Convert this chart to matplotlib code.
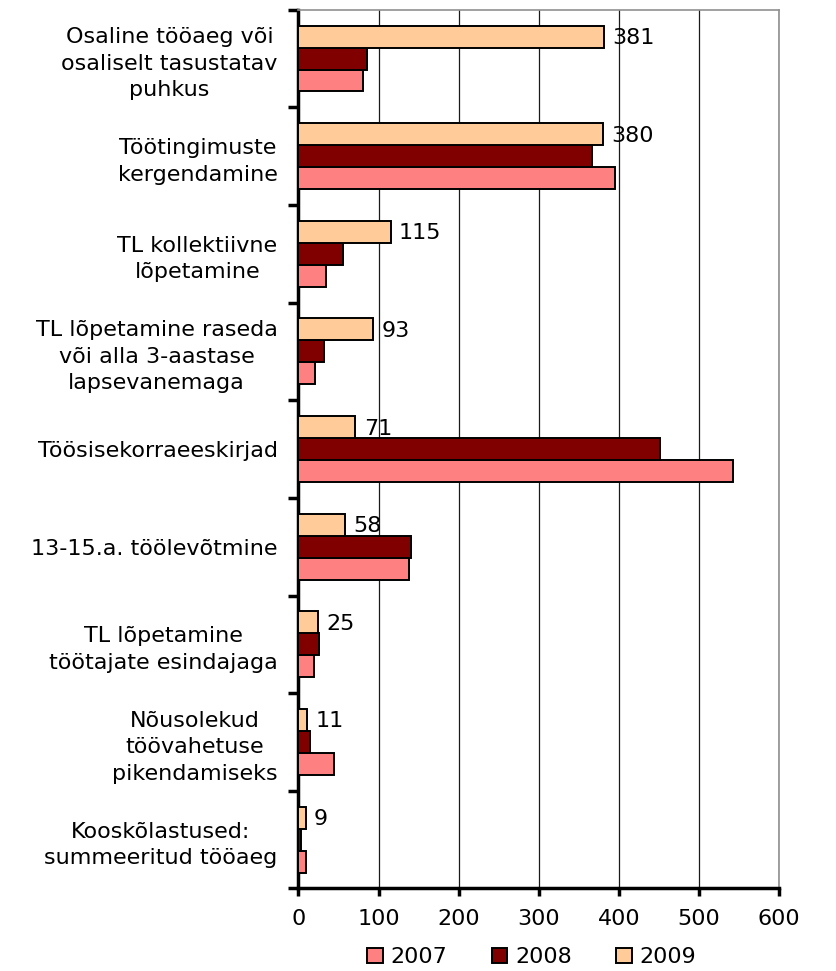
import numpy as np
import matplotlib
matplotlib.use('Agg')
import matplotlib.pyplot as plt

# categories, top to bottom
categories = [
    'Osaline tööaeg või\nosaliselt tasustatav\npuhkus',
    'Töötingimuste\nkergendamine',
    'TL kollektiivne\nlõpetamine',
    'TL lõpetamine raseda\nvõi alla 3-aastase\nlapsevanemaga',
    'Töösisekorraeeskirjad',
    '13-15.a. töölevõtmine',
    'TL lõpetamine\ntöötajate esindajaga',
    'Nõusolekud\ntöövahetuse\npikendamiseks',
    'Kooskõlastused:\nsummeeritud tööaeg',
]
v2007 = [80, 395, 35, 21, 542, 138, 19, 44, 10]
v2008 = [86, 366, 55, 32, 451, 140, 26, 15, 3]
v2009 = [381, 380, 115, 93, 71, 58, 25, 11, 9]
years = ['2007', '2008', '2009']
colors = ['#FF8080', '#800000', '#FFCC99']

plt.rcParams['font.family'] = 'DejaVu Sans'
fig = plt.figure(figsize=(8.36, 9.71), dpi=100)
ax = fig.add_axes([0.357, 0.085, 0.575, 0.905])

y = np.arange(len(categories))
h = 0.225
series = [v2007, v2008, v2009]
offsets = [h, 0, -h]
for vals, off, c, lab in zip(series, offsets, colors, years):
    ax.barh(y + off, vals, height=h, color=c, edgecolor='black',
            linewidth=1.4, label=lab, zorder=3)

for yi, v in zip(y, v2009):
    ax.annotate(str(v), (v, yi - h), xytext=(6, -1), textcoords='offset points',
                va='center', ha='left', fontsize=16)

ax.set_xlim(0, 600)
ax.set_ylim(len(categories) - 0.5, -0.5)
ax.set_xticks(range(0, 601, 100))
ax.tick_params(axis='x', labelsize=16, width=2.5, length=6, pad=9)
ax.xaxis.grid(True, color='#1a1a1a', linewidth=0.9, zorder=0)

ax.set_yticks(np.arange(-0.5, len(categories)))
ax.set_yticklabels([])
ax.tick_params(axis='y', which='major', width=2.5, length=7)
ax.set_yticks(y, minor=True)
ax.set_yticklabels(categories, minor=True, fontsize=16, multialignment='center',
                   linespacing=1.4)
ax.tick_params(axis='y', which='minor', length=0, pad=15)

for s in ['top', 'right']:
    ax.spines[s].set_color('#909090')
    ax.spines[s].set_linewidth(1.2)
for s in ['left', 'bottom']:
    ax.spines[s].set_linewidth(2.5)

ax.legend(loc='upper center', bbox_to_anchor=(0.485, -0.044), ncol=3, frameon=False,
          fontsize=16, handlelength=0.7, handleheight=0.7, columnspacing=2.0,
          handletextpad=0.35)

fig.savefig('out.png', dpi=100)
